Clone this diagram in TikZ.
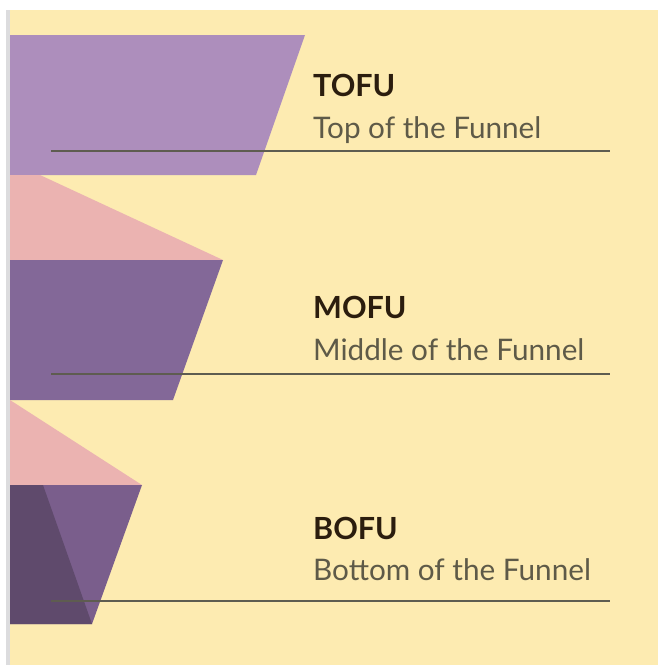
\documentclass[tikz,border=0pt]{standalone}
\usepackage{fontspec}
\setmainfont{Lato}
\usetikzlibrary{positioning}
\definecolor{paper}{HTML}{FDEBB1}
\definecolor{edge}{HTML}{DCDCDE}
\definecolor{tofu}{HTML}{AD8EBC}
\definecolor{blush}{HTML}{EBB3B1}
\definecolor{mofu}{HTML}{836898}
\definecolor{bofu}{HTML}{7A5E8C}
\definecolor{bofudark}{HTML}{5F4A6C}
\definecolor{ink}{HTML}{2B1D0E}
\definecolor{grey}{HTML}{5E5A48}
\definecolor{rulecol}{HTML}{5E5C50}

\begin{document}
\begin{tikzpicture}[x=1pt,y=-1pt,every node/.style={inner sep=0pt,anchor=base west},stage/.style={font=\bfseries\fontsize{30.5}{34}\selectfont,text=ink},sub/.style={font=\fontsize{29.7}{34}\selectfont,text=grey},rule/.style={draw=rulecol,line width=1.8pt}]
\path[use as bounding box] (0,0) rectangle (658,665);
\fill[white] (0,0) rectangle (658,665);
\fill[paper] (10,10) rectangle (658,665);
\fill[edge] (6,10) rectangle (10,665);

% funnel bands, top to bottom
\fill[tofu] (10,35)--(305,35)--(256,175)--(10,175)--cycle;
\fill[blush] (10,175)--(40,175)--(223,260)--(10,260)--cycle;
\fill[mofu] (10,260)--(223,260)--(173,400)--(10,400)--cycle;
\fill[blush] (10,400)--(142,485)--(10,485)--cycle;
\fill[bofu] (10,485)--(142,485)--(92,624)--(10,624)--cycle;
\fill[bofudark] (10,485)--(43,485)--(92,624)--(10,624)--cycle;

% labels
\node[stage] (tofu) at (313,96) {TOFU};
\node[sub] (tofusub) at (313,138) {Top of the Funnel};
\node[stage] (mofu) at (313,318) {MOFU};
\node[sub] (mofusub) at (313,360) {Middle of the Funnel};
\node[stage] (bofu) at (313,539) {BOFU};
\node[sub] (bofusub) at (313,580) {Bottom of the Funnel};

% rules under each stage
\coordinate (tofuL) at (51,151); \coordinate (tofuR) at (610,151);
\coordinate (mofuL) at (51,374); \coordinate (mofuR) at (610,374);
\coordinate (bofuL) at (51,601); \coordinate (bofuR) at (610,601);
\draw[rule] (tofuL)--(tofuR);
\draw[rule] (mofuL)--(mofuR);
\draw[rule] (bofuL)--(bofuR);

\end{tikzpicture}
\end{document}
